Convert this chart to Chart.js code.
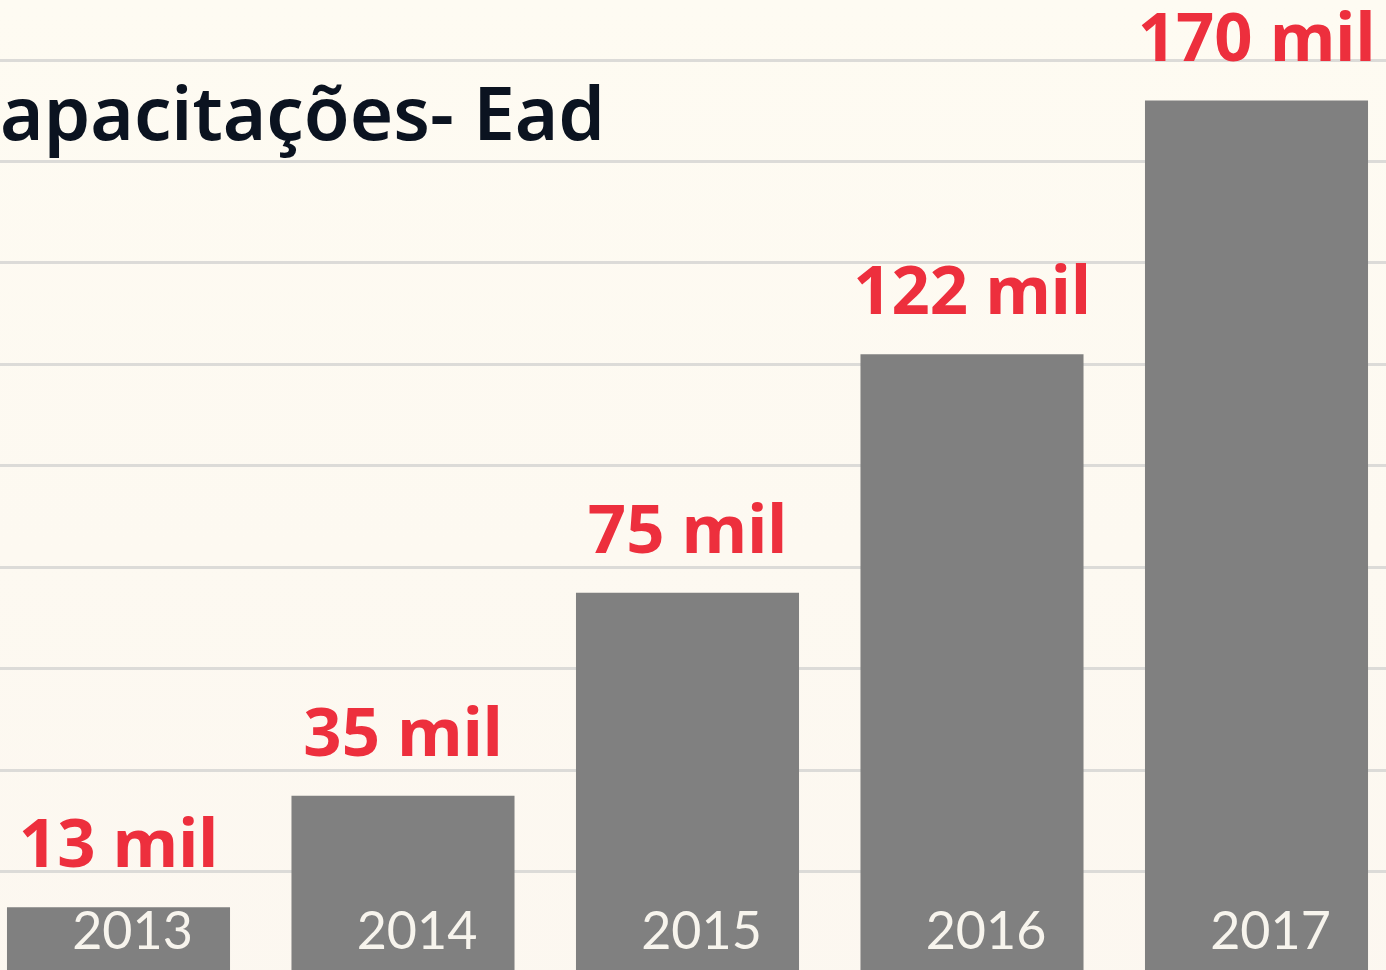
<!DOCTYPE html>
<html>
<head>
<meta charset="utf-8">
<script src="https://cdn.jsdelivr.net/npm/chart.js@4"></script>
<style>
  html, body { margin: 0; padding: 0; width: 1386px; height: 970px; overflow: hidden;
    background: linear-gradient(#fefbf2, #fcf7f0); }
  #wrap { position: absolute; left: -100px; top: 0; width: 1600px; height: 1100px; }
</style>
</head>
<body>
<div id="wrap"><canvas id="c" width="1600" height="1100"></canvas></div>
<script>
const titleText = 'Capacitações- Ead';
const years = ['2013', '2014', '2015', '2016', '2017'];
const barValues = [13, 35, 75, 122, 172];
const valueLabels = ['13 mil', '35 mil', '75 mil', '122 mil', '170 mil'];
const yTickStep = 20;
const yMax = 180;

const decor = {
  id: 'decor',
  beforeDraw(chart) {
    const { ctx, width, height } = chart;
    const g = ctx.createLinearGradient(0, 0, 0, height);
    g.addColorStop(0, '#fefbf2');
    g.addColorStop(1, '#fcf7f0');
    ctx.save();
    ctx.fillStyle = g;
    ctx.fillRect(0, 0, width, height);
    ctx.restore();
  },
  afterDraw(chart) {
    const { ctx } = chart;
    const meta = chart.getDatasetMeta(0);
    ctx.save();
    // title (cut off on the left, like the reference)
    let fs = 80;
    ctx.font = '600 ' + fs + 'px "Noto Sans"';
    const w = ctx.measureText(titleText.slice(1)).width;
    fs = fs * 605 / w;
    ctx.font = '600 ' + fs + 'px "Noto Sans"';
    ctx.fillStyle = '#0b1320';
    ctx.textAlign = 'right';
    ctx.textBaseline = 'alphabetic';
    ctx.fillText(titleText, 705, 140);
    // value labels
    ctx.textAlign = 'center';
    ctx.fillStyle = '#ed2f3d';
    ctx.font = 'bold 67px "Noto Sans"';
    meta.data.forEach((bar, i) => {
      ctx.fillText(valueLabels[i], bar.x, bar.y - 40);
    });
    // year labels inside bars
    ctx.fillStyle = '#f7f4ed';
    ctx.font = '52px Lato';
    meta.data.forEach((bar, i) => {
      ctx.fillText(years[i], bar.x + 14, 949);
    });
    ctx.restore();
  }
};

new Chart(document.getElementById('c'), {
  type: 'bar',
  data: {
    labels: years,
    datasets: [{
      data: barValues,
      backgroundColor: '#808080',
      borderWidth: 0,
      categoryPercentage: 1,
      barPercentage: 0.784
    }]
  },
  options: {
    responsive: false,
    animation: false,
    devicePixelRatio: 1,
    layout: { padding: { left: 76.25, right: 101.25, top: 60, bottom: 126.8 } },
    plugins: { legend: { display: false }, tooltip: { enabled: false } },
    scales: {
      x: { display: false },
      y: {
        min: 0, max: yMax,
        ticks: { display: false, stepSize: yTickStep },
        border: { display: false },
        grid: { color: '#dcdbd8', lineWidth: 3, drawTicks: false },
        afterFit(s) { s.width = 0; }
      }
    }
  },
  plugins: [decor]
});
</script>
</body>
</html>
